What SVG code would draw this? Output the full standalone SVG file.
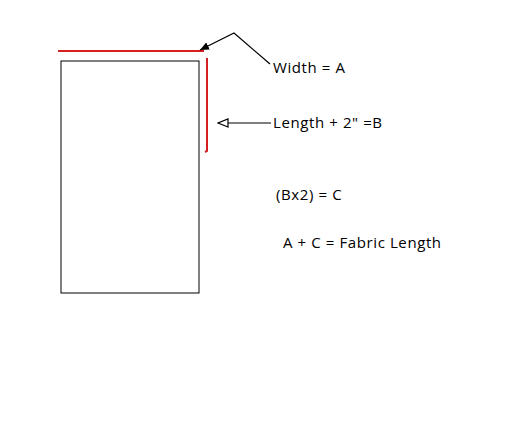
<svg xmlns="http://www.w3.org/2000/svg" width="523" height="445" viewBox="0 0 523 445">
<style>
text{font-family:"Comic Sans MS","Open Sans","DejaVu Sans",sans-serif;font-size:15px;letter-spacing:0.6px;fill:#000}
.red{stroke:#d42020;stroke-width:2;fill:none}
.ln{stroke:#000;stroke-width:1.2;fill:none}
</style>
<defs>
<marker id="solid" markerWidth="10" markerHeight="8" refX="9" refY="4" orient="auto" markerUnits="userSpaceOnUse">
<path d="M0,0 L9,4 L0,8 Z" fill="#000"/>
</marker>
<marker id="open" markerWidth="12" markerHeight="10" refX="11" refY="5" orient="auto" markerUnits="userSpaceOnUse">
<path d="M1,1 L11,5 L1,9 Z" fill="#fff" stroke="#000" stroke-width="1.2"/>
</marker>
</defs>
<rect width="523" height="445" fill="#fff"/>
<g id="panel">
<rect x="61" y="61" width="138" height="232" fill="none" stroke="#000" stroke-width="1"/>
</g>
<g id="width-line"><path class="red" d="M58,51 H204"/></g>
<g id="length-line"><path class="red" d="M207,58 V151 L205,152"/></g>
<g id="connectors">
<path class="ln" d="M270,64 L234,33 L200,50" marker-end="url(#solid)"/>
<path class="ln" d="M271,123 H218" marker-end="url(#open)"/>
</g>
<g id="labels">
<text x="273" y="73">Width = A</text>
<text x="273" y="128">Length + 2" =B</text>
<text x="276" y="200">(Bx2) = C</text>
<text x="283" y="248">A + C = Fabric Length</text>
</g>
</svg>
